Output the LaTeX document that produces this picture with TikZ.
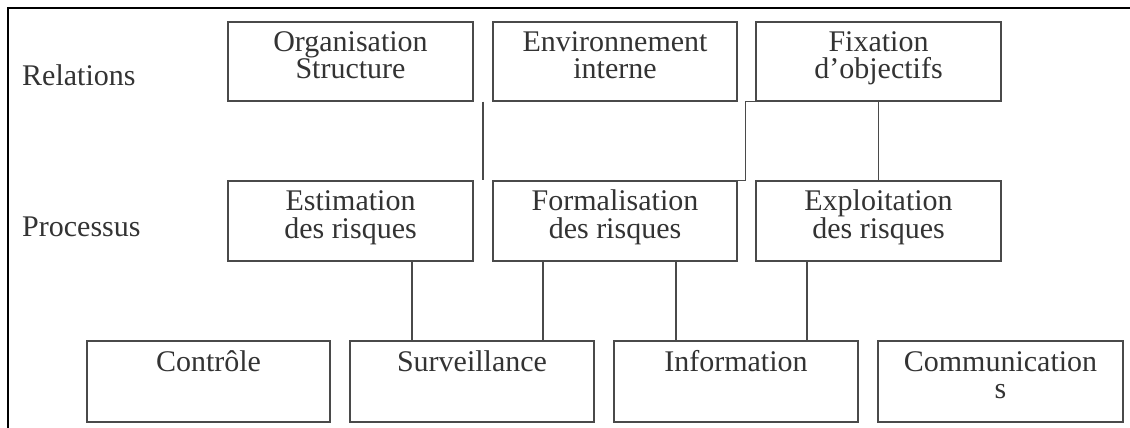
\documentclass[tikz,border=0pt]{standalone}
\usepackage{fontspec}
\setmainfont{Liberation Serif}
\usetikzlibrary{positioning}
\definecolor{boxgray}{HTML}{4A4A4A}
\definecolor{textgray}{HTML}{333333}
\tikzset{
  box/.style={draw=boxgray,line width=1.4bp,align=center,text=textgray,inner sep=0pt,
    minimum height=80bp,text height=41bp,text depth=6.6bp,
    font=\fontsize{30bp}{27.5bp}\selectfont},
  lab/.style={anchor=base west,text=textgray,inner sep=0pt,font=\fontsize{30bp}{27.5bp}\selectfont},
  link/.style={draw=boxgray,line width=1.4bp},
}
\begin{document}
\begin{tikzpicture}[line join=miter]
\useasboundingbox (0bp,0bp) rectangle (1130bp,428bp);
%%
\draw [black,line width=2bp] (8bp,0bp) -- (8bp,420bp) -- (1130bp,420bp);
%
\node (rel) at (22bp,342.3bp) [lab] {Relations};
\node (proc) at (22bp,191bp) [lab] {Processus};
%
\node (org) at (350.5bp,366.5bp) [box,minimum width=245bp,minimum height=79bp] {Organisation\\Structure};
  \node (env) at (615bp,366.5bp) [box,minimum width=244bp,minimum height=79bp] {Environnement\\interne};
  \node (fix) at (878.5bp,366.5bp) [box,minimum width=245bp,minimum height=79bp] {Fixation\\d'objectifs};
%
\node (est) at (350.5bp,207bp) [box,minimum width=245bp] {Estimation\\des risques};
  \node (form) at (615bp,207bp) [box,minimum width=244bp] {Formalisation\\des risques};
  \node (expl) at (878.5bp,207bp) [box,minimum width=245bp] {Exploitation\\des risques};
%
\node (ctrl) at (208.5bp,46.5bp) [box,minimum width=243bp,minimum height=81bp] {Contrôle\\\mbox{}};
  \node (surv) at (472bp,46.5bp) [box,minimum width=244bp,minimum height=81bp] {Surveillance\\\mbox{}};
  \node (info) at (736bp,46.5bp) [box,minimum width=244bp,minimum height=81bp] {Information\\\mbox{}};
  \node (comm) at (1000.5bp,46.5bp) [box,minimum width=245bp,minimum height=81bp] {Communication\\s};
%
\draw [link] ([xshift=9.3bp]org.south east) -- ([xshift=9.3bp]org.south east |- est.north);
  \draw [link] (fix.south west) -- ++(-10bp,0bp) |- (form.north east);
  \draw [link] (fix.south) -- (expl.north);
%
\draw [link] ([xshift=61.5bp]est.south) -- ([xshift=61.5bp]est.south |- surv.north);
  \draw [link] ([xshift=-72bp]form.south) -- ([xshift=-72bp]form.south |- surv.north);
  \draw [link] ([xshift=61bp]form.south) -- ([xshift=61bp]form.south |- info.north);
  \draw [link] ([xshift=-71.5bp]expl.south) -- ([xshift=-71.5bp]expl.south |- info.north);
%
\end{tikzpicture}
\end{document}
